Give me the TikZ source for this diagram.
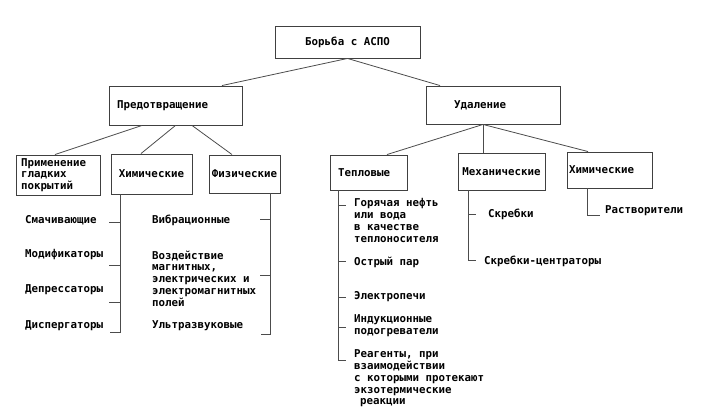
\documentclass[tikz,border=0pt]{standalone}
\usepackage{fontspec}
\setmainfont{DejaVu Sans Mono}[BoldFont={DejaVu Sans Mono Bold}]
\begin{document}
\begin{tikzpicture}[x=1pt,y=-1pt,
  font=\bfseries\fontsize{10.8}{11.7}\selectfont,
  box/.style={draw=black!75,line width=0.9pt,inner sep=0pt},
  item/.style={anchor=west,inner sep=0pt,align=left},
  link/.style={draw=black!70,line width=0.8pt}]
\useasboundingbox (0,0) rectangle (703,417);
\node[box,minimum width=145pt,minimum height=32pt](aspo) at (347.5,42){\raisebox{-4pt}{Борьба с АСПО}};
\node[box,minimum height=39pt,text width=117pt,inner xsep=8pt,align=left](pred) at (175.5,105.5){Предотвращение};
\node[box,minimum height=38pt,text width=78pt,inner xsep=28pt,align=left](udal) at (493,105){Удаление};
\node[box,minimum height=40pt,text width=74pt,inner xsep=5pt,align=left](glad) at (58,175){Применение\\гладких\\покрытий};
\node[box,minimum width=81pt,minimum height=40pt](khim) at (151.5,174){Химические};
\node[box,minimum width=71pt,minimum height=38pt](fiz) at (244.5,174){Физические};
\node[box,minimum height=35pt,text width=61pt,inner xsep=8pt,align=left](tepl) at (368.5,172.5){Тепловые};
\node[box,minimum width=87pt,minimum height=37pt](mekh) at (501.5,171.5){Механические};
\node[box,minimum height=36pt,text width=81pt,inner xsep=2pt,align=left](khimu) at (609.5,170){Химические};
\draw[link](aspo.south)--([xshift=46.5pt]pred.north);
\draw[link](aspo.south)--([xshift=-53pt]udal.north);
\draw[link]([xshift=-33.5pt]pred.south)--([xshift=-3pt]glad.north);
\draw[link](pred.south)--([xshift=-10.5pt]khim.north);
\draw[link]([xshift=16.5pt]pred.south)--([xshift=-12.5pt]fiz.north);
\draw[link]([xshift=-10pt]udal.south)--([xshift=18.5pt]tepl.north);
\draw[link]([xshift=-10pt]udal.south)coordinate(u)--(u|-mekh.north);
\draw[link]([xshift=-10pt]udal.south)--([xshift=-21.5pt]khimu.north);
\draw[link]([xshift=-31.5pt]khim.south)coordinate(kv)--(kv|-0,332)--++(-10,0);
\foreach \y in {222,265,302}\draw[link](kv|-0,\y)--++(-11,0);
\draw[link]([xshift=25.5pt]fiz.south)coordinate(fv)--(fv|-0,334)--++(-9,0);
\foreach \y in {219,275}\draw[link](fv|-0,\y)--++(-10,0);
\draw[link]([xshift=-30.5pt]tepl.south)coordinate(tv)--(tv|-0,360)--++(8,0);
\foreach \y in {205,261,297,327}\draw[link](tv|-0,\y)--++(8,0);
\draw[link]([xshift=-33.5pt]mekh.south)coordinate(mv)--(mv|-0,260)--++(8,0);
\draw[link](mv|-0,214)--++(8,0);
\draw[link]([xshift=-22.5pt]khimu.south)coordinate(xv)--(xv|-0,215)--++(13,0);
\node[item](smach) at (25,220){Смачивающие};
\node[item](modif) at (25,255){Модификаторы};
\node[item](depr) at (25,290){Депрессаторы};
\node[item](disp) at (25,326){Диспергаторы};
\node[item](vibr) at (152,220){Вибрационные};
\node[item](pole) at (152,278.5){Воздействие\\магнитных,\\электрических и\\электромагнитных\\полей};
\node[item](ultra) at (152,326){Ультразвуковые};
\node[item](gor) at (354,220.5){Горячая нефть\\или вода\\в качестве\\теплоносителя};
\node[item](par) at (354,262){Острый пар};
\node[item](pechi) at (354,297){Электропечи};
\node[item](induk) at (354,326){Индукционные\\подогреватели};
\node[item](reag) at (354,378.5){Реагенты, при\\взаимодействии\\с которыми протекают\\экзотермические\\\hspace*{6pt}реакции};
\node[item](skr) at (488,214){Скребки};
\node[item](skrc) at (484,261){Скребки-центраторы};
\node[item](rastv) at (605,211){Растворители};
\end{tikzpicture}
\end{document}
